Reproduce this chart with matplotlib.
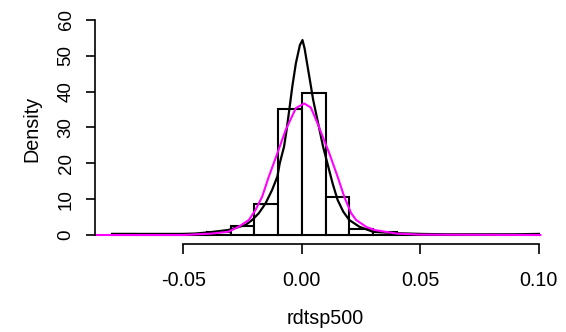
import matplotlib.pyplot as plt
import numpy as np

plt.rcParams['font.family'] = ['Liberation Sans', 'DejaVu Sans']

# histogram of rdtsp500 (density scale), bins of width 0.01
bin_left = np.round(np.arange(-0.08, 0.10, 0.01), 3)
bin_height = [0.2, 0.1, 0.1, 0.15, 0.8, 2.5, 8.6, 35.3, 39.5,
              10.6, 1.8, 0.8, 0.2, 0.1, 0.05, 0.1, 0.05, 0.1]

# kernel density (black)
kde_x = [-0.080, -0.070, -0.060, -0.050, -0.045, -0.039, -0.031, -0.0237,
         -0.0209, -0.0181, -0.0153, -0.0125, -0.0103, -0.0093, -0.0075,
         -0.0064, -0.0051, -0.0040, -0.0025, -0.0008, 0.0003, 0.0012,
         0.0020, 0.0034, 0.0048, 0.0066, 0.0090, 0.0108, 0.0130, 0.0151,
         0.0175, 0.0200, 0.0243, 0.0300, 0.0400, 0.0500, 0.0610, 0.0700,
         0.0800, 0.0900, 0.1000]
kde_y = [0.3, 0.3, 0.3, 0.3, 0.4, 0.75, 1.4, 2.8,
         4.2, 6.1, 8.8, 12.6, 16.3, 20.0, 24.6,
         29.3, 35.8, 41.4, 47.9, 53.0, 54.4, 52.0,
         48.8, 43.3, 37.7, 32.1, 24.6, 20.0, 14.4, 9.8,
         6.5, 4.2, 2.3, 0.9, 0.5, 0.3, 0.2, 0.2,
         0.2, 0.2, 0.3]

# normal density (magenta)
norm_x = [-0.0873, -0.050, -0.038, -0.031, -0.0266, -0.0223, -0.0195,
          -0.0167, -0.0139, -0.0103, -0.0068, -0.0025, 0.0010, 0.0038,
          0.0066, 0.0116, 0.0151, 0.0179, 0.0208, 0.0229, 0.0271, 0.0306,
          0.0400, 0.0500, 0.1006]
norm_y = [0.0, 0.0, 0.4, 0.9, 2.3, 4.2, 7.0,
          10.7, 16.3, 22.8, 29.3, 35.4, 36.7, 35.6,
          31.2, 22.8, 16.3, 10.7, 6.1, 4.2, 2.3, 1.4,
          0.4, 0.1, 0.0]

xticks = [-0.05, 0.00, 0.05, 0.10]
xtick_labels = ['-0.05', '0.00', '0.05', '0.10']
yticks = [0, 10, 20, 30, 40, 50, 60]

fig = plt.figure(figsize=(5.66, 3.32), dpi=100)
ax = fig.add_axes([95 / 566, 1 - 243.6 / 332, 461 / 566, 232.2 / 332])

ax.bar(bin_left, bin_height, width=0.01, align='edge',
       facecolor='white', edgecolor='black', linewidth=1.5)
ax.plot(kde_x, kde_y, color='black', lw=1.6)
ax.plot(norm_x, norm_y, color='magenta', lw=1.5)

ax.set_xlim(-0.0872, 0.1072)
ax.set_ylim(-2.4, 62.4)

for s in ['top', 'right']:
    ax.spines[s].set_visible(False)
ax.spines['bottom'].set_bounds(-0.05, 0.10)
ax.spines['left'].set_bounds(0, 60)
for s in ['bottom', 'left']:
    ax.spines[s].set_linewidth(1.2)

ax.set_xticks(xticks)
ax.set_xticklabels(xtick_labels)
ax.set_yticks(yticks)
ax.tick_params(axis='x', length=7, width=1.2, pad=13, labelsize=14.2)
ax.tick_params(axis='y', length=6.7, width=1.2, pad=8, labelsize=13.5,
               labelrotation=90)
for lab in ax.get_yticklabels():
    lab.set_va('center')

ax.set_xlabel('rdtsp500', fontsize=14.2, va='center')
ax.xaxis.set_label_coords(0.5, (243.6 - 318) / 232.2)
ax.set_ylabel('Density', fontsize=14.2, va='center')
ax.yaxis.set_label_coords((32 - 95) / 461, (243.6 - 129) / 232.2)

fig.savefig('out.png', dpi=100)
